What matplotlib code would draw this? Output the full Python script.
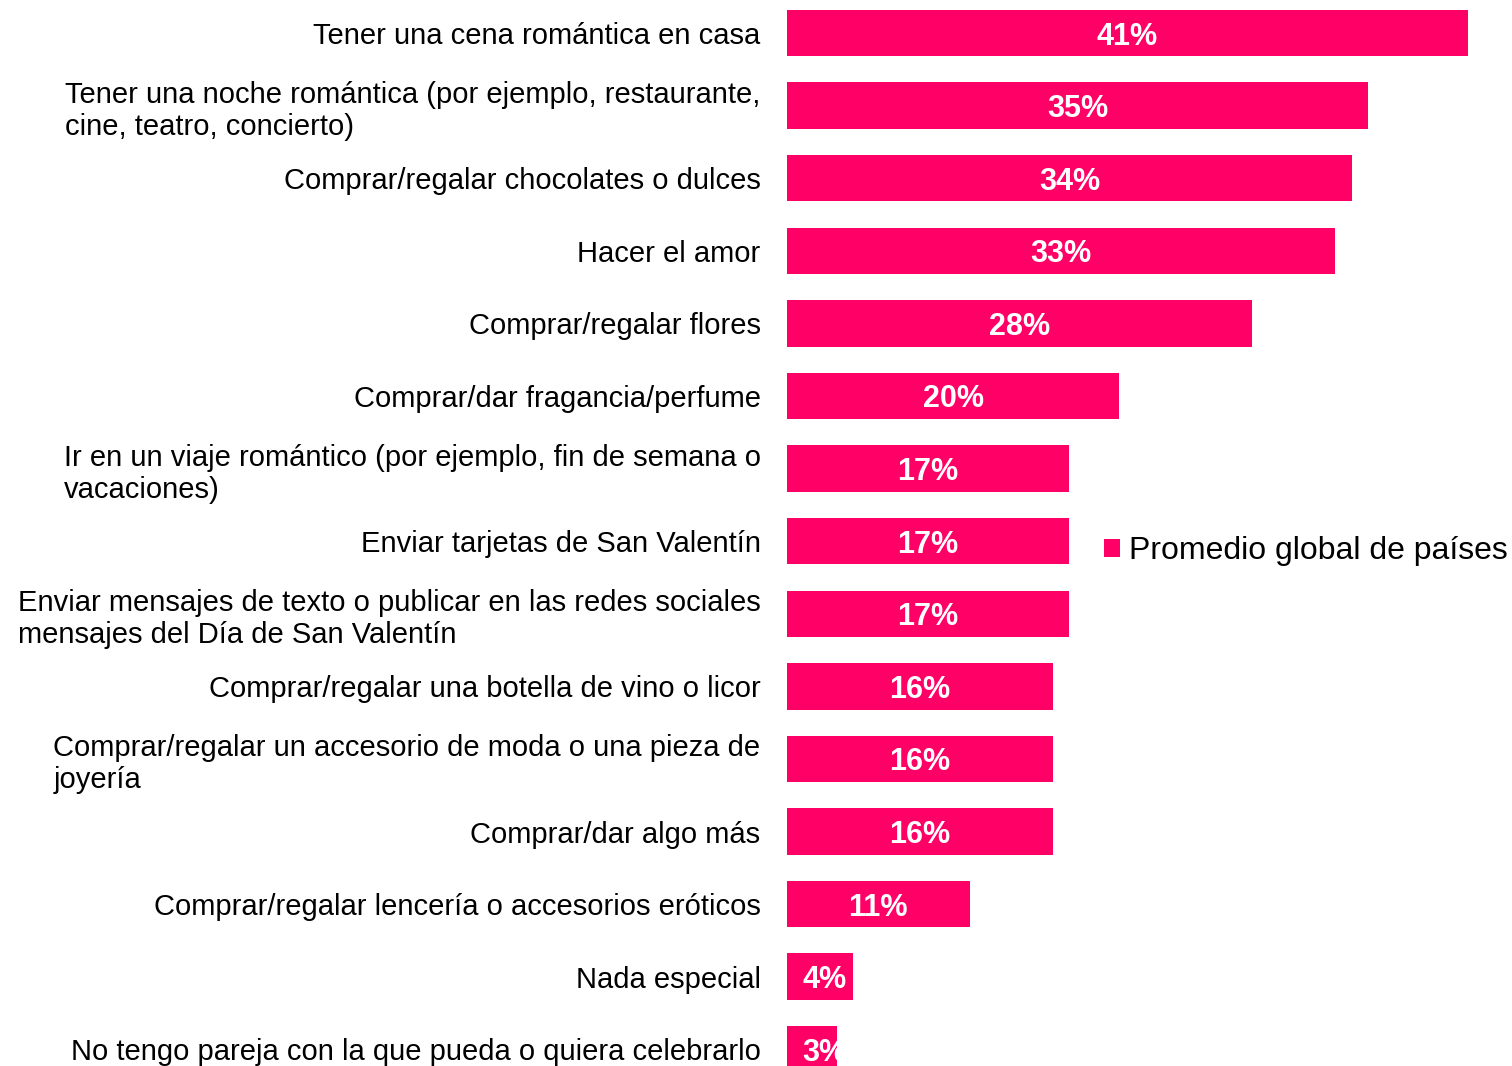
import matplotlib.pyplot as plt

# categories, top to bottom
labels = [
    'Tener una cena romántica en casa',
    'Tener una noche romántica (por ejemplo, restaurante,\ncine, teatro, concierto)',
    'Comprar/regalar chocolates o dulces',
    'Hacer el amor',
    'Comprar/regalar flores',
    'Comprar/dar fragancia/perfume',
    'Ir en un viaje romántico (por ejemplo, fin de semana o\nvacaciones)',
    'Enviar tarjetas de San Valentín',
    'Enviar mensajes de texto o publicar en las redes sociales\nmensajes del Día de San Valentín',
    'Comprar/regalar una botella de vino o licor',
    'Comprar/regalar un accesorio de moda o una pieza de\njoyería',
    'Comprar/dar algo más',
    'Comprar/regalar lencería o accesorios eróticos',
    'Nada especial',
    'No tengo pareja con la que pueda o quiera celebrarlo',
]
values = [41, 35, 34, 33, 28, 20, 17, 17, 17, 16, 16, 16, 11, 4, 3]
series_name = 'Promedio global de países'
pink = '#FF0066'

plt.rcParams['font.family'] = ['Liberation Sans', 'DejaVu Sans']

fig = plt.figure(figsize=(15.12, 10.66), dpi=100)
ax = fig.add_axes([787 / 1512, 0, 725 / 1512, 1])

pos = list(range(len(values)))
bars = ax.barh(pos, values, height=0.64, color=pink, label=series_name)

ax.set_xlim(0, 41 * 725 / 681)
ax.set_ylim(14.23, -0.455)

# value labels inside bars, clipped to the bar (the short ones get cut)
for b, v in zip(bars, values):
    t = ax.text(max(v / 2, 2.25), b.get_y() + b.get_height() / 2,
                f'{v}%', ha='center', va='center_baseline', color='white',
                fontsize=22, fontweight='bold')
    t.set_clip_path(b)

ax.set_yticks(pos)
ax.set_yticklabels(labels, fontsize=21)
for lbl in ax.get_yticklabels():
    lbl.set_multialignment('left')
ax.tick_params(axis='y', length=0, pad=19)
ax.set_xticks([])
for s in ax.spines.values():
    s.set_visible(False)

fig.legend(loc='center left', bbox_to_anchor=(1104 / 1512, 1 - 551 / 1066),
           frameon=False, fontsize=23, handlelength=0.5, handleheight=0.5,
           handletextpad=0.28, borderpad=0, borderaxespad=0)

fig.savefig('out.png', dpi=100)
